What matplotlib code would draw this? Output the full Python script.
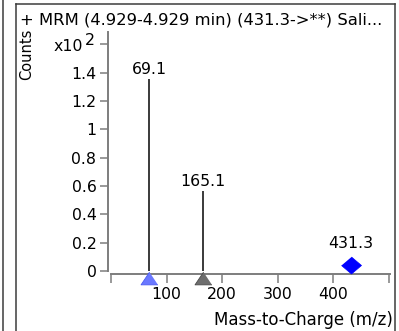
import matplotlib
matplotlib.use("Agg")
import matplotlib.pyplot as plt
from matplotlib.lines import Line2D
from matplotlib.transforms import ScaledTranslation

plt.rcParams['font.family'] = ['DejaVu Sans']

# Spectrum data (intensities in units of 10^2 counts)
product_mz = [69.1, 165.1]
product_counts = [1.356, 0.565]
product_colors = ['#6a78ff', '#6e6e6e']
product_edges = ['#4b5cf0', '#4a4a4a']
precursor_mz = [431.3]
precursor_counts = [0.04]

title = "+ MRM (4.929-4.929 min) (431.3->**) Sali..."
y_ticks = [0, 0.2, 0.4, 0.6, 0.8, 1.0, 1.2, 1.4, 1.6]
y_ticklabels = ['0', '0.2', '0.4', '0.6', '0.8', '1', '1.2', '1.4', '']
x_ticks = [0, 100, 200, 300, 400, 500]
x_ticklabels = ['', '100', '200', '300', '400', '']

W, H = 399, 331
DPI = 100
fig = plt.figure(figsize=(W / DPI, H / DPI), dpi=DPI)


def fx(px):
    return px / W


def fy(py):
    return 1 - py / H


AX_L, AX_R, AX_T, AX_B = 108, 390, 32, 274
ax = fig.add_axes([fx(AX_L), fy(AX_B), (AX_R - AX_L) / W, (AX_B - AX_T) / H])
ax.set_xlim(-5.6, 502.2)
ax.set_ylim(-0.0212, 1.688)

axis_gray = '#7d7d7d'
for s in ('top', 'right'):
    ax.spines[s].set_visible(False)
for s in ('left', 'bottom'):
    ax.spines[s].set_color(axis_gray)
    ax.spines[s].set_linewidth(1.4)
ax.spines['left'].set_bounds(0, 1.688)
ax.spines['bottom'].set_bounds(0, 502.2)

ax.set_yticks(y_ticks)
ax.set_yticklabels(y_ticklabels)
ax.set_xticks(x_ticks)
ax.set_xticklabels(x_ticklabels)
ax.tick_params(axis='y', direction='out', length=5.8, width=1.1, color=axis_gray,
               pad=2.5, labelsize=11.3, labelcolor='black')
ax.tick_params(axis='x', direction='out', length=6.5, width=1.1, color=axis_gray,
               pad=3.0, labelsize=11.3, labelcolor='black')

# Exponent label at the top tick
ax.annotate('2', xy=(0, 1.6), xycoords=('axes fraction', 'data'),
            xytext=(-9.5, 2.5), textcoords='offset points',
            ha='right', va='center', fontsize=11.3)
ax.annotate('x10', xy=(0, 1.6), xycoords=('axes fraction', 'data'),
            xytext=(-18, -1.5), textcoords='offset points',
            ha='right', va='center', fontsize=11.3)

# Product ion sticks
ax.vlines(product_mz, 0, product_counts, colors='#3a3a3a', linewidth=1.4, zorder=3)
for m, c in zip(product_mz, product_counts):
    ax.annotate(f'{m:.1f}', xy=(m, c), xytext=(0, 3.3), textcoords='offset points',
                ha='center', va='baseline', fontsize=11.3)

# Product markers below the baseline
tri = [(0, 0.75), (-1, -0.75), (1, -0.75)]
shift = ax.transData + ScaledTranslation(0, -7 / DPI, fig.dpi_scale_trans)
for m, fc, ec in zip(product_mz, product_colors, product_edges):
    ax.plot([m], [0], marker=tri, markersize=12.2, markerfacecolor=fc,
            markeredgecolor=ec, markeredgewidth=0.6, linestyle='none',
            transform=shift, clip_on=False, zorder=5)

# Precursor marker
dia = [(0, 0.85), (1, 0), (0, -0.85), (-1, 0)]
ax.plot(precursor_mz, precursor_counts, marker=dia, markersize=14.4,
        markerfacecolor='#0000ff', markeredgecolor='#0000ff', markeredgewidth=0.5,
        linestyle='none', clip_on=False, zorder=5)
for m, c in zip(precursor_mz, precursor_counts):
    ax.annotate(f'{m:.1f}', xy=(m, c), xytext=(0, 12.2), textcoords='offset points',
                ha='center', va='baseline', fontsize=11.3)

# Panel frame
frame_c = '#3c3c3c'
for xs, ys in [((16, 16), (4, 331)), ((16, 395), (4, 4)), ((395, 395), (4, 331)),
               ((2.5, 2.5), (0, 331))]:
    fig.add_artist(Line2D([fx(x) for x in xs], [fy(y) for y in ys],
                          color=frame_c, linewidth=1.1))

fig.text(fx(20), fy(24.5), title, ha='left', va='baseline', fontsize=11.8)
fig.text(fx(393), fy(325), 'Mass-to-Charge (m/z)', ha='right', va='baseline',
         fontsize=12)
fig.text(fx(27), fy(54), 'Counts', rotation=90, ha='center', va='center',
         fontsize=10.5)

fig.savefig('out.png', dpi=DPI)
